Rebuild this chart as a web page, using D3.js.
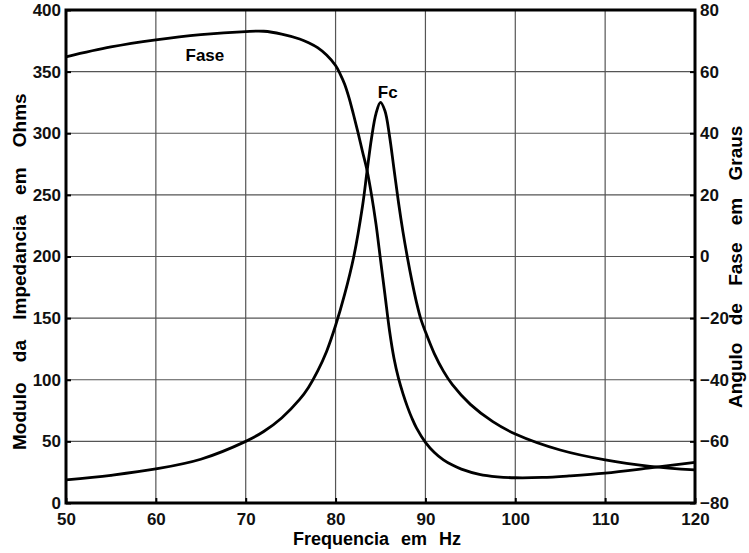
<!DOCTYPE html>
<html>
<head>
<meta charset="utf-8">
<script src="https://cdn.jsdelivr.net/npm/d3@7"></script>
<style>
  body { margin: 0; background: #fff; }
  text { font-family: "Liberation Sans", Arial, sans-serif; font-weight: bold; }
</style>
</head>
<body>
<div id="chart"></div>
<script>
// impedance magnitude (Ohms) vs frequency
const magFreq = [50, 55, 60, 65, 70, 72, 74, 76, 77, 78, 79, 80, 81, 82, 83, 83.5, 84, 84.5, 85, 85.5, 86, 86.5, 87, 87.5, 88, 88.5, 89, 89.5, 90, 91, 92, 93, 95, 97.5, 100, 105, 110, 115, 120];
const magVals = [18.7, 22.5, 27.6, 35.5, 50, 58, 69, 84, 94, 107, 123, 144, 169, 199, 241, 269, 296, 316, 325, 318, 298, 271, 244, 220, 199, 180, 163, 149, 139, 121, 107, 96, 80, 66, 56, 43, 35, 29.8, 26.9];

// phase (degrees) vs frequency
const phFreq = [50, 55, 60, 65, 70, 72, 74, 76, 77, 78, 79, 80, 80.5, 81, 81.5, 82, 82.5, 83, 83.5, 84, 84.5, 85, 85.5, 86, 86.5, 87, 87.5, 88, 88.5, 89, 90, 91, 92, 93, 94, 96, 98, 100, 103, 106, 110, 115, 120];
const phVals = [64.8, 68, 70.3, 72, 73, 73.1, 72.2, 70.6, 69.4, 67.8, 65.4, 62, 59.3, 56, 51.5, 46, 40.2, 34, 28, 20, 10.5, -1, -12.5, -24, -33, -39.5, -44.5, -48.8, -52.5, -55.6, -60.3, -63.6, -66, -67.7, -69, -70.7, -71.5, -71.8, -71.7, -71.2, -70.3, -68.6, -66.8];

const xTicks = [50, 60, 70, 80, 90, 100, 110, 120];
const yLeftTicks = [0, 50, 100, 150, 200, 250, 300, 350, 400];
const yRightTicks = [-80, -60, -40, -20, 0, 20, 40, 60, 80];

const margin = {top: 10, right: 54, bottom: 50, left: 66},
      width = 749 - margin.left - margin.right,
      height = 553 - margin.top - margin.bottom;

const svg = d3.select("#chart")
  .append("svg")
  .attr("width", 749)
  .attr("height", 553)
  .append("g")
  .attr("transform", `translate(${margin.left}, ${margin.top})`);

const x = d3.scaleLinear().domain([50, 120]).range([0, width]);
const yL = d3.scaleLinear().domain([0, 400]).range([height, 0]);
const yR = d3.scaleLinear().domain([-80, 80]).range([height, 0]);

// grid
svg.append("g")
  .selectAll("line")
  .data(xTicks.slice(1, -1))
  .join("line")
    .attr("x1", d => x(d)).attr("x2", d => x(d))
    .attr("y1", 0).attr("y2", height)
    .attr("stroke", "#555").attr("stroke-width", 1.2);
svg.append("g")
  .selectAll("line")
  .data(yLeftTicks.slice(1, -1))
  .join("line")
    .attr("x1", 0).attr("x2", width)
    .attr("y1", d => yL(d)).attr("y2", d => yL(d))
    .attr("stroke", "#555").attr("stroke-width", 1.2);

// axes
const styleAxis = g => {
  g.select(".domain").remove();
  g.selectAll(".tick line").attr("stroke", "#000").attr("stroke-width", 2);
  g.selectAll(".tick text").attr("fill", "#111").style("font-size", "17px");
};

svg.append("g")
  .attr("transform", `translate(0,${height})`)
  .call(d3.axisBottom(x).tickValues(xTicks).tickSize(-5).tickPadding(10))
  .call(styleAxis);

svg.append("g")
  .call(d3.axisLeft(yL).tickValues(yLeftTicks).tickSize(-5).tickPadding(5))
  .call(styleAxis);

svg.append("g")
  .attr("transform", `translate(${width},0)`)
  .call(d3.axisRight(yR).tickValues(yRightTicks).tickSize(-5).tickPadding(5))
  .call(styleAxis);

// curves
const magLine = d3.line()
  .x((d, i) => x(magFreq[i]))
  .y(d => yL(d))
  .curve(d3.curveCatmullRom.alpha(0.5));
const phLine = d3.line()
  .x((d, i) => x(phFreq[i]))
  .y(d => yR(d))
  .curve(d3.curveCatmullRom.alpha(0.5));

svg.append("path")
  .datum(magVals)
  .attr("fill", "none")
  .attr("stroke", "#000")
  .attr("stroke-width", 2.8)
  .attr("d", magLine);

svg.append("path")
  .datum(phVals)
  .attr("fill", "none")
  .attr("stroke", "#000")
  .attr("stroke-width", 2.8)
  .attr("d", phLine);

// frame
svg.append("rect")
  .attr("width", width).attr("height", height)
  .attr("fill", "none")
  .attr("stroke", "#000")
  .attr("stroke-width", 3);

// labels
svg.append("text")
  .attr("x", x(63.3)).attr("y", yL(359))
  .style("font-size", "17px")
  .text("Fase");
svg.append("text")
  .attr("x", x(85.8)).attr("y", yL(329))
  .attr("text-anchor", "middle")
  .style("font-size", "17px")
  .text("Fc");

// axis titles (start-anchored, word-spacing breaks middle anchoring)
svg.append("text")
  .attr("x", 293 - margin.left).attr("y", height + 42)
  .style("font-size", "18px")
  .style("word-spacing", "7px")
  .text("Frequencia em Hz");

svg.append("text")
  .attr("transform", `translate(${-40},${440}) rotate(-90)`)
  .style("font-size", "19px")
  .style("word-spacing", "15px")
  .text("Modulo da Impedancia em Ohms");

svg.append("text")
  .attr("transform", `translate(${width + 47},${398}) rotate(-90)`)
  .style("font-size", "19px")
  .style("word-spacing", "12px")
  .text("Angulo de Fase em Graus");
</script>
</body>
</html>
